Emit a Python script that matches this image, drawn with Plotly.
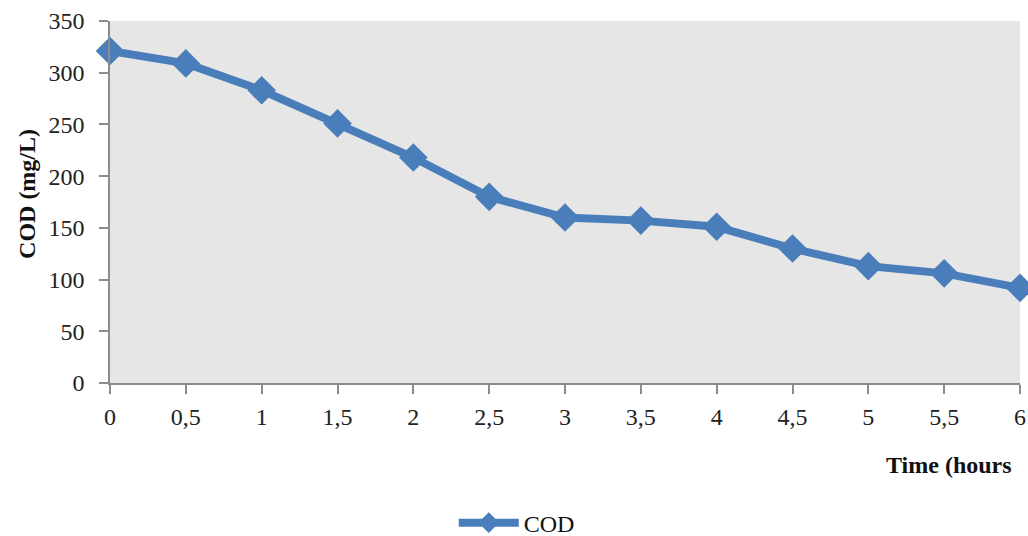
import plotly.graph_objects as go

# COD measurements over treatment time
time_h = [0, 0.5, 1, 1.5, 2, 2.5, 3, 3.5, 4, 4.5, 5, 5.5, 6]
cod_mg_l = [321, 309, 283, 251, 218, 180, 160, 157, 151, 130, 113, 106, 92]

x_tick_vals = [0, 0.5, 1, 1.5, 2, 2.5, 3, 3.5, 4, 4.5, 5, 5.5, 6]
x_tick_text = ["0", "0,5", "1", "1,5", "2", "2,5", "3", "3,5", "4", "4,5", "5", "5,5", "6"]
y_tick_vals = [0, 50, 100, 150, 200, 250, 300, 350]

BLUE = "#4A7EBB"
AXIS_GREY = "#8C8C8C"
SERIF = "Liberation Serif, Times New Roman, serif"

fig = go.Figure()
fig.add_trace(go.Scatter(
    x=time_h, y=cod_mg_l, name="COD", mode="lines+markers",
    line=dict(color=BLUE, width=8),
    marker=dict(symbol="diamond", size=22, color=BLUE),
    cliponaxis=False,
))

fig.update_layout(
    width=1028, height=536,
    margin=dict(l=110, r=8, t=21, b=153, autoexpand=False),
    paper_bgcolor="white",
    plot_bgcolor="#E6E6E6",
    font=dict(family=SERIF, size=24, color="#222222"),
    showlegend=True,
    legend=dict(orientation="h", x=0.447, xanchor="center", y=-0.387, yanchor="middle",
                font=dict(family=SERIF, size=24, color="#111111"),
                itemwidth=60, bgcolor="rgba(0,0,0,0)"),
    xaxis=dict(range=[0, 6], tickvals=x_tick_vals, ticktext=x_tick_text,
               showgrid=False, zeroline=False, showline=True, linecolor=AXIS_GREY, linewidth=1.5,
               ticks="outside", ticklen=9, tickcolor=AXIS_GREY, tickwidth=1.5,
               ticklabelstandoff=2),
    yaxis=dict(range=[0, 350], tickvals=y_tick_vals,
               showgrid=False, zeroline=False, showline=True, linecolor=AXIS_GREY, linewidth=1.5,
               ticks="outside", ticklen=9, tickcolor=AXIS_GREY, tickwidth=1.5,
               ticklabelstandoff=10),
    annotations=[
        dict(text="<b>COD (mg/L)</b>", textangle=-90, xref="paper", yref="paper",
             x=-0.092, y=0.523, xanchor="center", yanchor="middle", showarrow=False,
             font=dict(family=SERIF, size=24, color="#111111")),
        dict(text="<b>Time (hours</b>", xref="paper", yref="paper",
             x=0.993, y=-0.227, xanchor="right", yanchor="middle", showarrow=False,
             font=dict(family=SERIF, size=24, color="#111111")),
    ],
)

fig.write_html("out.html")
